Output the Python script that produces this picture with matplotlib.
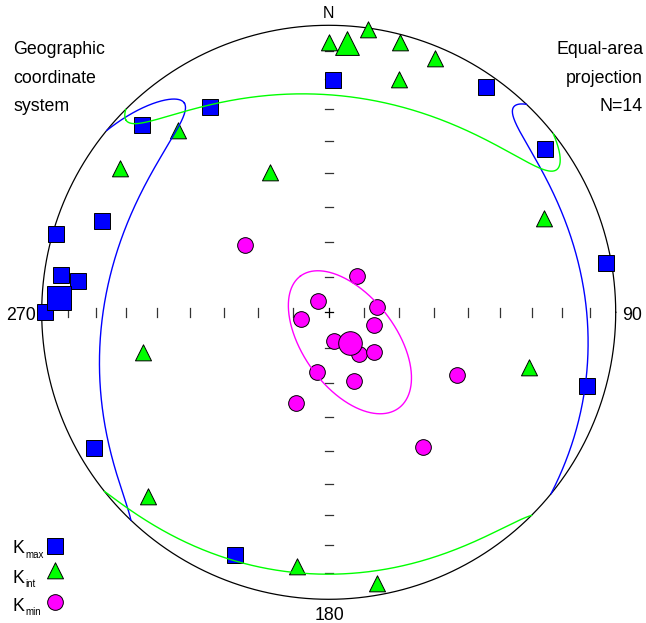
import numpy as np
import matplotlib.pyplot as plt
from matplotlib.path import Path

plt.rcParams['font.family'] = ['Liberation Sans', 'DejaVu Sans']

# principal axes of each specimen, trend / plunge in degrees
kmax_trend = [1, 330, 315, 35, 53, 292, 286, 278, 277, 270, 80, 106, 240, 201]
kmax_plunge = [20.2, 18.5, 8.6, 4.8, 6.4, 15.9, 1.3, 6.6, 12.9, 1.3, 2.1, 7.0, 6.1, 10.3]
kint_trend = [0, 8, 15, 23, 17, 320, 304, 337, 67, 257, 106, 224, 187, 170]
kint_plunge = [7.8, 1.7, 4.2, 5.5, 17.1, 19.5, 13.2, 46.9, 19.7, 34.1, 28.3, 10.3, 11.0, 3.6]
kmin_trend = [309, 38, 318, 84, 256, 106, 169, 144, 131, 191, 160, 200, 116, 145]
kmin_plunge = [59.3, 76.9, 85.6, 76.3, 81.8, 76.8, 81.8, 75.5, 72.9, 72.7, 69.1, 62.5, 48.8, 42.1]

# mean directions: kmax, kint, kmin
mean_trend = [273, 4, 145]
mean_plunge = [6.4, 8.0, 79.5]

# confidence ellipses: centre, direction of the long axis, semi-angles
ell_trend = [273, 5.5, 145]
ell_plunge = [6.2, 8.0, 79.5]
ell_axis_trend = [326, 313.5, 322]
ell_axis_plunge = [12.5, 3.0, 76.9]
ell_major = [52, 52, 23.5]
ell_minor = [16.5, 17.5, 13]

tick_plunges = [10, 20, 30, 40, 50, 60, 70, 80]


def vec(trend, plunge):
    t = np.radians(np.asarray(trend, float))
    p = np.radians(np.asarray(plunge, float))
    return np.array([np.cos(p) * np.sin(t), np.cos(p) * np.cos(t), np.sin(p)])


def proj(v):
    # lower hemisphere, equal-area (Schmidt)
    return v[0] / np.sqrt(1 + v[2]), v[1] / np.sqrt(1 + v[2])


def cone(trend, plunge, atrend, aplunge, a, b, n=1441):
    m = vec(trend, plunge)
    t = vec(atrend, aplunge)
    u = t - np.dot(t, m) * m
    u /= np.linalg.norm(u)
    w = np.cross(m, u)
    phi = np.linspace(0, 2 * np.pi, n)
    p = (m[:, None] + np.tan(np.radians(a)) * np.cos(phi) * u[:, None]
         + np.tan(np.radians(b)) * np.sin(phi) * w[:, None])
    p /= np.linalg.norm(p, axis=0)
    up = p[2] < 0
    p[:, up] *= -1
    x, y = proj(p)
    brk = np.where(np.diff(up.astype(int)) != 0)[0] + 1
    x = np.insert(x, brk, np.nan)
    y = np.insert(y, brk, np.nan)
    return x, y


W, H = 646, 623
CX, CY, R = 328.7, 312.3, 287.0

fig = plt.figure(figsize=(W / 100, H / 100), dpi=100)
ax = fig.add_axes([0, 0, 1, 1])
ax.set_xlim(-CX / R, (W - CX) / R)
ax.set_ylim((CY - H) / R, CY / R)
ax.axis('off')

# primitive circle
th = np.linspace(0, 2 * np.pi, 721)
ax.plot(np.cos(th), np.sin(th), color='black', lw=0.9)

# plunge ticks along the N-S and E-W lines
tl = 4.2 / R
for pl in tick_plunges:
    r = np.sqrt(2) * np.sin(np.radians((90 - pl) / 2))
    for s in (-1, 1):
        ax.plot([s * r, s * r], [-tl, tl], color='#333333', lw=0.9)
        ax.plot([-tl, tl], [s * r, s * r], color='#333333', lw=0.9)
ax.plot([-tl, tl], [0, 0], color='black', lw=0.9)
ax.plot([0, 0], [-tl, tl], color='black', lw=0.9)

# triangle marker with its centroid on the point
tri = Path([(0, 2 / 3), (-0.5, -1 / 3), (0.5, -1 / 3), (0, 2 / 3)],
           [Path.MOVETO, Path.LINETO, Path.LINETO, Path.CLOSEPOLY])

styles = [('#0000ff', 's', 11.5, 17.3, 'max'),
          ('#00ff00', tri, 15.4, 22.8, 'int'),
          ('#ff00ff', 'o', 11.3, 17.0, 'min')]
data = [(kmax_trend, kmax_plunge), (kint_trend, kint_plunge), (kmin_trend, kmin_plunge)]

for i, ((col, mk, ms, msb, lab), (tr, pl)) in enumerate(zip(styles, data)):
    x, y = proj(vec(tr, pl))
    ax.plot(x, y, ls='none', marker=mk, ms=ms, mfc=col, mec='black', mew=0.7,
            label='K' + lab, zorder=3)
    mx, my = proj(vec(mean_trend[i], mean_plunge[i]))
    ax.plot([mx], [my], ls='none', marker=mk, ms=msb, mfc=col, mec='black', mew=0.7, zorder=4)

for i, (col, *_rest) in enumerate(styles):
    ex, ey = cone(ell_trend[i], ell_plunge[i], ell_axis_trend[i], ell_axis_plunge[i],
                  ell_major[i], ell_minor[i])
    ax.plot(ex, ey, color=col, lw=1.0, zorder=5)


def ftext(px, py, s, **kw):
    fig.text(px / W, 1 - py / H, s, **kw)


fs = 12.8
ftext(328.5, 14, 'N', ha='center', va='center', fontsize=11.5)
ftext(36, 316, '270', ha='right', va='center', fontsize=fs)
ftext(622, 316, '90', ha='left', va='center', fontsize=fs)
ftext(329.5, 615, '180', ha='center', va='center', fontsize=fs)

for py, s in zip([54.3, 82.7, 111], ['Geographic', 'coordinate', 'system']):
    ftext(13, py, s, ha='left', va='baseline', fontsize=fs)
for py, s in zip([54.3, 82.7, 111], ['Equal-area', 'projection', 'N=14']):
    ftext(643, py, s, ha='right', va='baseline', fontsize=fs)

# key, bottom left
for (col, mk, ms, msb, lab), base, my in zip(styles, [553.3, 582.7, 610.7], [546, 573, 601.7]):
    ftext(13, base, 'K', ha='left', va='baseline', fontsize=fs)
    ftext(25.5, base + 4.5, lab, ha='left', va='baseline', fontsize=7)
    ax.plot([55.3 / W], [1 - my / H], transform=fig.transFigure, ls='none', marker=mk,
            ms=ms, mfc=col, mec='black', mew=0.7, clip_on=False)

fig.savefig('out.png', dpi=100)
